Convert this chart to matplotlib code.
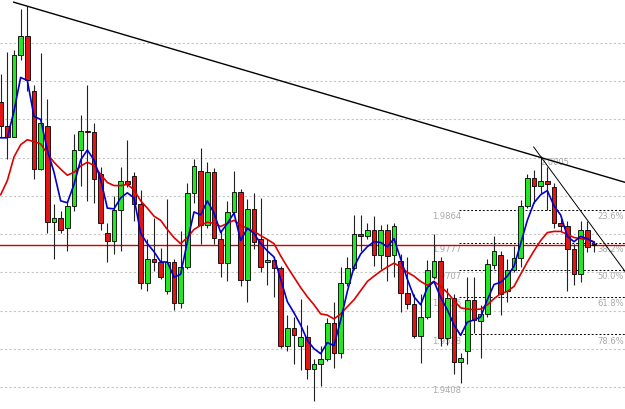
import matplotlib
matplotlib.use("Agg")
import matplotlib.pyplot as plt
import numpy as np

# candle data (price * 10000)
opens = [20146, 20082, 20055, 20268, 20319, 20175, 19970, 20084, 19831, 19842,
         19815, 19874, 20020, 20071, 20066, 19956, 19802, 19783, 19863, 19938,
         19951, 19879, 19671, 19735, 19727, 19650, 19727, 19620, 19714, 19908,
         19964, 19823, 19962, 19788, 19724, 19858, 19911, 19679, 19866, 19788,
         19727, 19732, 19711, 19506, 19554, 19506, 19530, 19447, 19460, 19474,
         19567, 19490, 19671, 19711, 19799, 19794, 19812, 19746, 19812, 19746,
         19730, 19647, 19618, 19532, 19583, 19687, 19730, 19527, 19634, 19466,
         19495, 19628, 19572, 19591, 19719, 19746, 19650, 19706, 19738, 19874,
         19946, 19927, 19940, 19922, 19828, 19820, 19762, 19695, 19810, 19775]
highs = [20220, 20276, 20282, 20388, 20396, 20191, 20274, 20154, 19879, 19860,
         19887, 20063, 20111, 20191, 20090, 19975, 19828, 19900, 19975, 20047,
         19962, 19916, 19788, 19842, 19764, 19892, 19735, 19807, 19935, 19996,
         20026, 19988, 19972, 19810, 19887, 19964, 19919, 19892, 19908, 19895,
         19788, 19740, 19716, 19588, 19583, 19631, 19562, 19474, 19508, 19580,
         19623, 19714, 19740, 19850, 19850, 19828, 19847, 19823, 19826, 19828,
         19748, 19740, 19642, 19642, 19732, 19799, 19740, 19660, 19642, 19490,
         19687, 19687, 19615, 19735, 19794, 19756, 19735, 19770, 19890, 19956,
         19967, 20005, 19975, 19935, 19847, 19834, 19775, 19834, 19834, 19780]
lows = [20055, 19996, 20055, 20255, 20175, 19943, 19967, 19804, 19735, 19804,
        19756, 19860, 19927, 19887, 19882, 19812, 19727, 19748, 19756, 19922,
        19834, 19655, 19650, 19703, 19682, 19642, 19602, 19607, 19708, 19882,
        19775, 19815, 19775, 19687, 19676, 19850, 19663, 19623, 19762, 19700,
        19668, 19636, 19503, 19495, 19460, 19444, 19420, 19362, 19402, 19468,
        19450, 19476, 19663, 19706, 19756, 19786, 19716, 19708, 19676, 19687,
        19596, 19604, 19527, 19463, 19578, 19682, 19508, 19511, 19434, 19410,
        19460, 19540, 19476, 19583, 19708, 19588, 19623, 19700, 19714, 19868,
        19882, 19908, 19863, 19815, 19807, 19650, 19668, 19674, 19754, 19754]
closes = [20082, 20055, 20268, 20319, 20202, 19970, 20090, 19831, 19842, 19812,
          19874, 20020, 20071, 20066, 19943, 19828, 19783, 19863, 19938, 19930,
          19879, 19671, 19735, 19727, 19687, 19727, 19620, 19714, 19908, 19978,
          19823, 19962, 19791, 19724, 19858, 19911, 19679, 19866, 19778, 19714,
          19732, 19711, 19506, 19554, 19535, 19530, 19447, 19460, 19474, 19567,
          19490, 19671, 19711, 19799, 19794, 19812, 19746, 19812, 19743, 19820,
          19647, 19618, 19532, 19583, 19706, 19730, 19527, 19634, 19466, 19476,
          19628, 19575, 19591, 19722, 19756, 19644, 19706, 19738, 19874, 19948,
          19927, 19940, 19932, 19828, 19820, 19762, 19695, 19810, 19767, 19772]

# moving averages as drawn on the chart
ma_fast = [20052, 20052, 20122, 20210, 20202, 20108, 20100, 20020, 19962, 19887,
           19882, 19930, 19994, 20020, 19994, 19943, 19868, 19866, 19895, 19908,
           19895, 19802, 19775, 19754, 19727, 19727, 19687, 19695, 19780, 19858,
           19850, 19887, 19855, 19804, 19828, 19855, 19783, 19815, 19802, 19775,
           19756, 19740, 19682, 19623, 19594, 19562, 19522, 19500, 19487, 19516,
           19508, 19575, 19650, 19714, 19748, 19767, 19780, 19778, 19767, 19788,
           19735, 19682, 19636, 19615, 19660, 19676, 19634, 19602, 19562, 19535,
           19570, 19575, 19583, 19628, 19668, 19674, 19690, 19716, 19775, 19836,
           19882, 19903, 19914, 19874, 19850, 19794, 19780, 19794, 19788, 19778]
ma_slow = [19903, 19940, 20002, 20034, 20047, 20042, 20036, 20010, 19988, 19970,
           19954, 19962, 19978, 19988, 19980, 19956, 19935, 19927, 19927, 19930,
           19916, 19887, 19868, 19847, 19836, 19812, 19791, 19775, 19791, 19812,
           19823, 19831, 19828, 19820, 19828, 19836, 19823, 19815, 19807, 19796,
           19786, 19775, 19743, 19714, 19687, 19660, 19636, 19615, 19591, 19588,
           19578, 19591, 19610, 19628, 19652, 19676, 19690, 19703, 19714, 19724,
           19714, 19700, 19690, 19676, 19666, 19676, 19663, 19647, 19626, 19607,
           19604, 19602, 19604, 19615, 19631, 19644, 19650, 19663, 19695, 19727,
           19756, 19783, 19804, 19807, 19807, 19799, 19791, 19788, 19786, 19780]

# trend lines (bar index, price)
trend1_x = [1.95, 93.75]
trend1_y = [2.0407, 1.9935]
trend2_x = [79.95, 93.75]
trend2_y = [2.0028, 1.9700]

# fibonacci retracement
fib_pct = ["23.6%", "38.2%", "50.0%", "61.8%", "78.6%"]
fib_price = [1.9864, 1.9777, 1.9707, 1.9636, 1.9538]
fib_start = 68.7
fib_high = 2.0005
fib_low = 1.9408

grid_levels = [1.94, 1.95, 1.96, 1.97, 1.98, 1.99, 2.00, 2.01, 2.02, 2.03]

o = np.array(opens) / 10000
h = np.array(highs) / 10000
l = np.array(lows) / 10000
c = np.array(closes) / 10000
x = np.arange(len(o))

fig = plt.figure(figsize=(6.25, 4.1), dpi=100)
ax = fig.add_axes([0, 0, 1, 1])
ax.set_xlim(-0.1, 93.65)
ax.set_ylim(1.93422, 2.04153)
for s in ax.spines.values():
    s.set_visible(False)
ax.set_xticks([])
ax.set_yticks([])

for g in grid_levels:
    ax.axhline(g, color="#c4c4c4", lw=0.8, ls=(0, (2, 2)), zorder=0)

# fib lines and labels
lbl = dict(color="#a8a8a8", va="center", zorder=1, textcoords="offset pixels")
for p, pct in zip(fib_price, fib_pct):
    ax.hlines(p, fib_start, 94, color="black", lw=0.7, ls=(0, (2, 2)), zorder=1)
    ax.annotate(f"{p:.4f}", (64.7, p), xytext=(0, -6), fontsize=6, ha="left", **lbl)
    ax.annotate(pct, (0.998, p), xycoords=("axes fraction", "data"), xytext=(0, -6),
                fontsize=6, ha="right", **lbl)
ax.annotate(f"{fib_low:.4f}", (64.7, fib_low), xytext=(0, -6), fontsize=6, ha="left", **lbl)
ax.annotate(f"{fib_high:.4f}", (81.0, fib_high), xytext=(0, -6), fontsize=6, ha="left", **lbl)

ax.axhline(c[-1], color="#d00000", lw=1.0, zorder=1.5)

# candles
up = c >= o
ax.vlines(x, l, h, color="#222222", lw=0.8, zorder=2)
ax.bar(x, np.abs(c - o), bottom=np.minimum(o, c), width=0.74,
       color=np.where(up, "#22e822", "#e41414"), edgecolor="black", lw=0.6, zorder=3)

ax.plot(x, np.array(ma_slow) / 10000, color="#dd0000", lw=1.2, zorder=4)
ax.plot(x, np.array(ma_fast) / 10000, color="#0000cc", lw=1.2, zorder=5)

ax.plot(trend1_x, trend1_y, color="black", lw=1.0, zorder=6)
ax.plot(trend2_x, trend2_y, color="black", lw=0.7, zorder=6)

fig.savefig("out.png", dpi=100)
